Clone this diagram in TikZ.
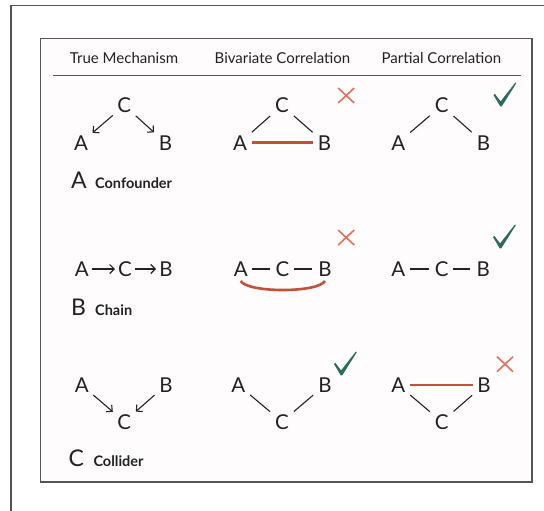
\documentclass[tikz,border=0pt]{standalone}
\usepackage{fontspec}
\setmainfont{Lato}
\usetikzlibrary{arrows.meta}
\definecolor{frameg}{HTML}{555555}
\definecolor{redl}{HTML}{C2503B}
\definecolor{redx}{HTML}{E2715C}
\definecolor{greenc}{HTML}{2B6B58}
\definecolor{ink}{HTML}{222222}
\definecolor{panelbg}{RGB}{254,252,252}
\tikzset{
  lt/.style={font=\fontsize{20.5}{22}\selectfont, text=ink, minimum width=20pt, minimum height=18pt, inner sep=0pt, outer sep=0pt},
  hdr/.style={font=\fontsize{15}{17}\selectfont, text=ink, anchor=base, inner sep=0pt},
  biglab/.style={font=\fontsize{23}{25}\selectfont, text=ink, anchor=base west, inner sep=0pt},
  caplab/.style={font=\bfseries\fontsize{14.5}{16}\selectfont, text=ink, anchor=base west, inner sep=0pt},
  arr/.style={draw=ink, line width=1.1pt, -{Straight Barb[length=4.5pt,width=9pt]}, shorten <=2pt, shorten >=2pt},
  harr/.style={draw=ink, line width=1.1pt, -{Straight Barb[length=4.5pt,width=9pt]}},
  edgel/.style={draw=ink, line width=1.1pt, shorten <=2.5pt, shorten >=2.5pt},
  dashl/.style={draw=ink, line width=1.1pt, shorten <=1.5pt, shorten >=3pt},
  corr/.style={draw=redl, line width=2.6pt, shorten <=1.5pt, shorten >=1.5pt},
  frame/.style={draw=frameg, line width=1.3pt},
  xmark/.pic={\draw[redx, line width=1.6pt] (-8,-7.5) -- (8,7.5) (-8,7.5) -- (8,-7.5);},
  chk/.pic={\fill[greenc] (-7.5,-11) -- (-6.2,-12.2) -- (-0.4,-4.6) -- (14.4,-23.5) -- (15.3,-22.8) -- (0.8,0.3) -- (-0.8,0.3) -- cycle;}
}
\begin{document}
\begin{tikzpicture}[x=1pt,y=-1pt]
\useasboundingbox (0,0) rectangle (544,511);
\fill[white] (0,0) rectangle (544,511);
\draw[frame] (11,512) -- (11,5.3) -- (545,5.3);
\filldraw[frame, fill=panelbg] (40.5,38.3) rectangle (532,482);

% headers
\node[hdr] (h1) at (124,63.5) {True Mechanism};
\node[hdr] (h2) at (282.5,63.5) {Bivariate Correlation};
\node[hdr] (h3) at (441.5,63.5) {Partial Correlation};
\coordinate (rl) at (53,76);
\coordinate (rr) at (521,76);
\draw[draw=frameg, line width=1pt] (rl) -- (rr);

% Row A: confounder
\node[lt] (aTC) at (124.3,105.5) {C};
\node[lt] (aTA) at (81,142.7) {A};
\node[lt] (aTB) at (165.5,142.7) {B};
\draw[arr] (aTC) -- (aTA);
\draw[arr] (aTC) -- (aTB);

\node[lt] (aBC) at (282,105.5) {C};
\node[lt] (aBA) at (240,142.7) {A};
\node[lt] (aBB) at (324.5,142.7) {B};
\draw[edgel] (aBA) -- (aBC);
\draw[edgel] (aBC) -- (aBB);
\draw[corr] (aBA) -- (aBB);

\node[lt] (aPC) at (441.7,105.5) {C};
\node[lt] (aPA) at (398.3,142.7) {A};
\node[lt] (aPB) at (483.5,142.7) {B};
\draw[edgel] (aPA) -- (aPC);
\draw[edgel] (aPC) -- (aPB);

\pic at (346.2,95.5) {xmark};
\pic at (501,106) {chk};

\node[biglab] (labA) at (71,188.3) {A};
\node[caplab] (capA) at (95,188.3) {Confounder};

% Row B: chain
\node[lt] (bTA) at (81.7,269) {A};
\node[lt] (bTC) at (125,269) {C};
\node[lt] (bTB) at (166,269) {B};
\draw[harr] (bTA) -- (bTC);
\draw[harr] (bTC) -- (bTB);

\node[lt] (bBA) at (240.7,269) {A};
\node[lt] (bBC) at (282.5,269) {C};
\node[lt] (bBB) at (325,269) {B};
\draw[dashl] (bBA) -- (bBC);
\draw[dashl] (bBC) -- (bBB);
\draw[draw=redl, line width=2.6pt] ([yshift=-3pt]bBA.south) .. controls +(7,12) and +(-7,12) .. ([yshift=-3pt]bBB.south);

\node[lt] (bPA) at (398.3,269) {A};
\node[lt] (bPC) at (441.7,269) {C};
\node[lt] (bPB) at (483.3,269) {B};
\draw[dashl] (bPA) -- (bPC);
\draw[dashl] (bPC) -- (bPB);

\pic at (346.2,237.5) {xmark};
\pic at (500.5,248) {chk};

\node[biglab] (labB) at (71,315) {B};
\node[caplab] (capB) at (95,315) {Chain};

% Row C: collider
\node[lt] (cTA) at (81.7,385) {A};
\node[lt] (cTB) at (166,385) {B};
\node[lt] (cTC) at (124.3,421.7) {C};
\draw[arr] (cTA) -- (cTC);
\draw[arr] (cTB) -- (cTC);

\node[lt] (cBA) at (238.3,385) {A};
\node[lt] (cBB) at (325,385) {B};
\node[lt] (cBC) at (282,421.7) {C};
\draw[edgel] (cBA) -- (cBC);
\draw[edgel] (cBC) -- (cBB);

\node[lt] (cPA) at (398.3,385) {A};
\node[lt] (cPB) at (484,385) {B};
\node[lt] (cPC) at (441.7,421.7) {C};
\draw[edgel] (cPA) -- (cPC);
\draw[edgel] (cPC) -- (cPB);
\draw[corr] (cPA) -- (cPB);

\pic at (341.5,375) {chk};
\pic at (505,364.2) {xmark};

\node[biglab] (labC) at (68.5,466.7) {C};
\node[caplab] (capC) at (93.3,466.7) {Collider};
\end{tikzpicture}
\end{document}
